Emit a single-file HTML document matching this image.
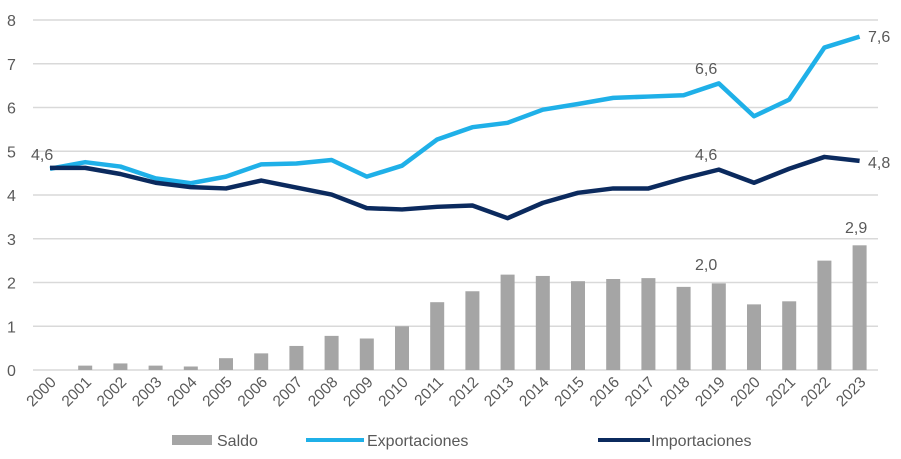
<!DOCTYPE html>
<html><head><meta charset="utf-8"><style>
body{margin:0;background:#fff}
svg{display:block;font-family:"Liberation Sans",sans-serif;fill:#595959}
</style></head><body>
<svg id="s" width="901" height="459" xmlns="http://www.w3.org/2000/svg"></svg>
<script>
const s=document.getElementById('s');
const ex=[4.6,4.75,4.65,4.38,4.27,4.42,4.7,4.72,4.8,4.42,4.67,5.27,5.55,5.65,5.95,6.08,6.22,6.25,6.28,6.55,5.8,6.18,7.37,7.62];
const im=[4.62,4.62,4.48,4.28,4.18,4.15,4.33,4.17,4.01,3.7,3.67,3.73,3.76,3.47,3.82,4.05,4.15,4.15,4.38,4.58,4.28,4.6,4.87,4.78];
const sa=[0,0.1,0.15,0.1,0.08,0.27,0.38,0.55,0.78,0.72,1.0,1.55,1.8,2.18,2.15,2.03,2.08,2.1,1.9,1.98,1.5,1.57,2.5,2.85];
const X=i=>50+i*35.2, Y=v=>370-v*43.75;
let h='';
for(let v=0;v<=8;v++){h+=`<line x1="33" x2="878" y1="${Y(v)}" y2="${Y(v)}" stroke="#d9d9d9" stroke-width="1.5"/><text x="7" y="${Y(v)+6}" font-size="16">${v}</text>`;}
sa.forEach((v,i)=>{if(v>0)h+=`<rect x="${X(i)-7}" y="${Y(v)}" width="14" height="${v*43.75}" fill="#a5a5a5"/>`;});
const pl=(a,c)=>`<polyline fill="none" stroke="${c}" stroke-width="4.5" stroke-linejoin="round" points="${a.map((v,i)=>X(i)+','+Y(v)).join(' ')}"/>`;
h+=pl(ex,'#1fb0e8')+pl(im,'#0b2a5e');
for(let i=0;i<24;i++){h+=`<text font-size="15.5" text-anchor="end" transform="translate(${X(i)+7},383) rotate(-45)">${2000+i}</text>`;}
const lb=(x,y,t)=>h+=`<text x="${x}" y="${y}" font-size="16">${t}</text>`;
lb(31,160,'4,6');lb(695,74,'6,6');lb(868,42,'7,6');lb(695,160,'4,6');lb(868,168,'4,8');lb(695,270,'2,0');lb(845,233,'2,9');
h+=`<rect x="172" y="435" width="40" height="10" fill="#a5a5a5"/><text x="217" y="446" font-size="16">Saldo</text>`;
h+=`<line x1="306" x2="364" y1="440" y2="440" stroke="#1fb0e8" stroke-width="4"/><text x="367" y="446" font-size="16">Exportaciones</text>`;
h+=`<line x1="598" x2="650" y1="440" y2="440" stroke="#0b2a5e" stroke-width="4"/><text x="651" y="446" font-size="16">Importaciones</text>`;
s.innerHTML=h;
</script>
</body></html>
